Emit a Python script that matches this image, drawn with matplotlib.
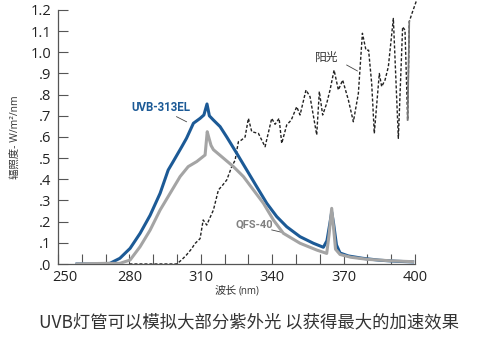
import matplotlib.pyplot as plt
import matplotlib.transforms as mtransforms
import numpy as np

plt.rcParams['font.family'] = ['Open Sans', 'Noto Sans CJK SC', 'DejaVu Sans']

# UVB-313EL lamp spectrum
uvb_nm = [258, 265, 269, 271.8, 276, 280.3, 284.5, 288.7, 292.9, 296.3, 298.4, 302, 304, 306.9,
          309.7, 311.3, 312.6, 313.6, 315.3, 318.1, 320.9, 325.1, 329.3, 333.5, 337.7, 341.9,
          346.1, 351.7, 357.3, 361.5, 363, 364.2, 365, 365.8, 367, 368.5, 372, 378, 385, 392, 399]
uvb_val = [0.0, 0.0, 0.001, 0.003, 0.027, 0.074, 0.145, 0.23, 0.334, 0.444, 0.484, 0.554, 0.594, 0.665,
           0.688, 0.704, 0.756, 0.70, 0.68, 0.649, 0.60, 0.523, 0.444, 0.365, 0.287, 0.224,
           0.176, 0.129, 0.098, 0.079, 0.11, 0.19, 0.245, 0.19, 0.09, 0.052, 0.038, 0.027, 0.018, 0.013, 0.01]

# QFS-40 lamp spectrum
qfs_nm = [258, 265, 270, 276, 280.3, 284.5, 288.7, 292.9, 297.1, 301.3, 304.7, 308.3, 311.8,
          312.7, 313.3, 314.3, 315.3, 319.5, 323.7, 327.9, 332.1, 336.3, 340.5, 344.7, 351.7,
          358.7, 362.9, 363.9, 365, 365.8, 366.6, 368.5, 373, 380, 390, 399]
qfs_val = [0.0, 0.002, 0.003, 0.003, 0.019, 0.082, 0.16, 0.255, 0.334, 0.413, 0.46, 0.484, 0.515,
           0.625, 0.60, 0.56, 0.54, 0.50, 0.46, 0.413, 0.35, 0.287, 0.208, 0.145, 0.098,
           0.066, 0.05, 0.14, 0.263, 0.17, 0.07, 0.045, 0.032, 0.022, 0.015, 0.011]

# Sunlight spectrum
sun_nm = [280, 290, 299.9, 302, 304, 306, 307.6, 309.7, 311, 312.5, 313.5, 315.3, 317.4, 319,
          320.9, 323, 324.4, 325.8, 327, 328.6, 330, 331.4, 334.2, 337, 339.8, 341.2, 342.9,
          344, 346.1, 348, 350.3, 351.7, 354.2, 355.9, 358.7, 359.8, 361.2, 362.9, 364.3, 366,
          367.8, 369.6, 372, 374.1, 376.2, 377.9, 379.4, 380.5, 381.8, 382.9, 385, 386, 387.4,
          388.8, 390.9, 393, 394.8, 395.8, 396.9, 397.6, 398.6, 400.7]
sun_val = [0.0, 0.0, 0.0, 0.02, 0.043, 0.07, 0.097, 0.12, 0.208, 0.184, 0.21, 0.255, 0.35, 0.37,
           0.397, 0.46, 0.49, 0.578, 0.585, 0.60, 0.688, 0.625, 0.617, 0.554, 0.688, 0.66, 0.688,
           0.57, 0.657, 0.68, 0.743, 0.704, 0.822, 0.79, 0.61, 0.815, 0.704, 0.759, 0.822, 0.916,
           0.822, 0.869, 0.775, 0.672, 0.806, 1.09, 1.01, 1.01, 0.853, 0.617, 0.90, 0.838, 0.869,
           0.932, 1.16, 0.594, 1.12, 1.105, 0.68, 1.145, 1.18, 1.247]

x_ticks = [250, 280, 310, 340, 370, 400]
y_ticks = [0.0, 0.1, 0.2, 0.3, 0.4, 0.5, 0.6, 0.7, 0.8, 0.9, 1.0, 1.1, 1.2]
y_labels = ['.0', '.1', '.2', '.3', '.4', '.5', '.6', '.7', '.8', '.9', '1.0', '1.1', '1.2']

blue = '#1c5a96'
grey = '#a4a4a4'
axis_col = '#555555'
cjk = ['Noto Sans CJK SC', 'DejaVu Sans']

fig = plt.figure(figsize=(4.79, 3.41), dpi=100)
ax = fig.add_axes([0.1211, 0.2258, 0.7453, 0.7449])

ax.plot(sun_nm, sun_val, color='#222222', lw=1.0, ls=(0, (2.2, 1.4)), clip_on=False, zorder=2)
# short solid stretch near the right end of the sunlight trace
k = sun_nm.index(396.9)
ax.plot(sun_nm[k:k + 2], sun_val[k:k + 2], color='#777777', lw=1.2, zorder=2)
ax.plot(uvb_nm, uvb_val, color=blue, lw=2.2, solid_joinstyle='round', zorder=3)
ax.plot(qfs_nm, qfs_val, color=grey, lw=2.2, solid_joinstyle='round', zorder=4)

ax.set_xlim(250, 400)
ax.set_ylim(0, 1.2)
for s in ['top', 'right']:
    ax.spines[s].set_visible(False)
for s in ['left', 'bottom']:
    ax.spines[s].set_color(axis_col)
    ax.spines[s].set_linewidth(0.9)

ax.set_xticks(x_ticks)
ax.set_xticks(np.arange(250, 401, 10), minor=True)
ax.set_yticks(y_ticks)
ax.set_yticklabels(y_labels)
ax.tick_params(which='both', direction='in', length=7, width=0.8, color=axis_col)
ax.tick_params(axis='x', labelsize=10.5, pad=4, labelcolor='#222222')
ax.tick_params(axis='y', labelsize=10.5, pad=5, labelcolor='#222222')

# nudge the first x label clear of the ".0"
first = ax.get_xticklabels()[0]
first.set_transform(first.get_transform() + mtransforms.ScaledTranslation(7 / 100, 0, fig.dpi_scale_trans))

ax.set_ylabel('辐照度- W/m²/nm', fontsize=7.5, color='#333333', labelpad=6,
              family=['Open Sans', 'Noto Sans CJK SC'])
fig.text(0.494, 0.148, '波长', fontsize=8, color='#333333', ha='right', va='center', family=cjk)
fig.text(0.498, 0.148, '(nm)', fontsize=7, color='#333333', ha='left', va='center')

# curve labels with leader lines
ax.text(293.3, 0.737, 'UVB-313EL', color=blue, fontsize=8.3, fontweight='bold', ha='center', va='center',
        family=['Roboto', 'DejaVu Sans'])
ax.plot([299.8, 304], [0.696, 0.672], color='#444444', lw=0.6)
ax.text(332.4, 0.184, 'QFS-40', color='#808080', fontsize=8, fontweight='bold', ha='center', va='center',
        family=['Roboto', 'DejaVu Sans'])
ax.plot([339.8, 344.7], [0.161, 0.148], color='#444444', lw=0.6)
ax.text(362.9, 0.975, '阳光', color='#333333', fontsize=8.5, fontweight='medium', ha='center', va='center',
        family=cjk)
ax.plot([371.3, 375.8], [0.94, 0.912], color='#444444', lw=0.6)

fig.text(0.52, 0.055, 'UVB灯管可以模拟大部分紫外光 以获得最大的加速效果', fontsize=12.5, color='#333333',
         ha='center', va='center', family=cjk)

fig.savefig('out.png', dpi=100)
